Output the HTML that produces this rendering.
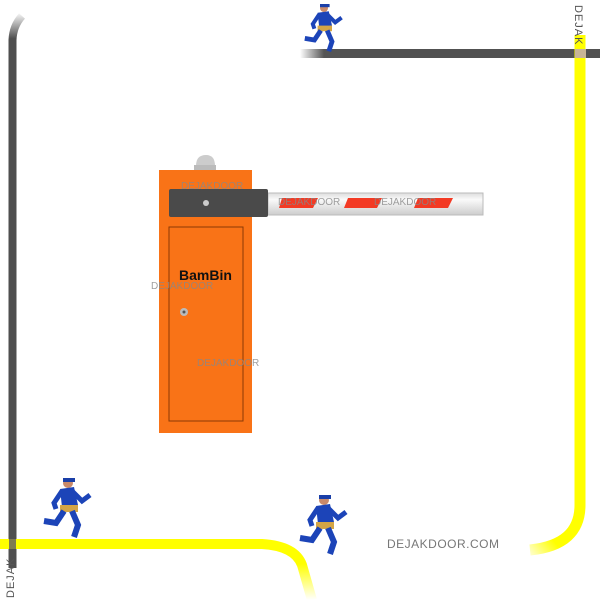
<!DOCTYPE html>
<html><head><style>
body{margin:0;width:600px;height:600px;background:#fff;overflow:hidden;font-family:"Liberation Sans",sans-serif}
</style></head><body>
<svg width="600" height="600" viewBox="0 0 600 600" xmlns="http://www.w3.org/2000/svg">
<defs>
<linearGradient id="gg" x1="0" x2="1"><stop offset="0" stop-color="#555" stop-opacity="0"/><stop offset="0.6" stop-color="#555"/></linearGradient>
<linearGradient id="yr" gradientUnits="userSpaceOnUse" x1="585" y1="500" x2="520" y2="552"><stop offset="0" stop-color="#ff0"/><stop offset="0.6" stop-color="#ff0"/><stop offset="1" stop-color="#ff0" stop-opacity="0"/></linearGradient>
<linearGradient id="yb" gradientUnits="userSpaceOnUse" x1="0" y1="540" x2="0" y2="600"><stop offset="0" stop-color="#ff0"/><stop offset="0.4" stop-color="#ff0"/><stop offset="1" stop-color="#ff0" stop-opacity="0"/></linearGradient>
<linearGradient id="gl" gradientUnits="userSpaceOnUse" x1="0" y1="12" x2="0" y2="50"><stop offset="0" stop-color="#4f4f4f" stop-opacity="0"/><stop offset="0.7" stop-color="#4f4f4f"/></linearGradient>
<linearGradient id="arm" x1="0" y1="0" x2="0" y2="1"><stop offset="0" stop-color="#ddd"/><stop offset="0.3" stop-color="#fafafa"/><stop offset="1" stop-color="#ccc"/></linearGradient>
<g id="man">
<circle cx="30" cy="10" r="5" fill="#c98a6a"/>
<path d="M25 5 h12 v4 h-12z" fill="#1a3fa8"/>
<path d="M22 16 L36 14 L40 32 L24 34 Z" fill="#1c44b8"/>
<path d="M34 18 L44 28 L52 22" stroke="#1c44b8" stroke-width="5" fill="none"/>
<path d="M24 18 L16 30 L18 36" stroke="#1c44b8" stroke-width="5" fill="none"/>
<rect x="22" y="32" width="18" height="7" fill="#d4a546"/>
<path d="M26 38 L18 50 L6 48" stroke="#1c44b8" stroke-width="6" fill="none"/>
<path d="M34 38 L40 52 L36 64" stroke="#1c44b8" stroke-width="6" fill="none"/>
</g>
</defs>
<path d="M12.5 568 V40 Q13 26 22 16" stroke="url(#gl)" stroke-width="8" fill="none"/>
<rect x="330" y="49" width="270" height="9" fill="#515151"/>
<rect x="300" y="49" width="40" height="9" fill="url(#gg)"/>
<path d="M580 35 V505 Q580 545 530 550" stroke="url(#yr)" stroke-width="11" fill="none"/>
<rect x="575" y="49" width="11" height="9" fill="#c8b596"/>
<path d="M0 544 H262 Q295 546 302 565 L312 600" stroke="url(#yb)" stroke-width="10" fill="none"/>
<rect x="9" y="539" width="7" height="10" fill="#807c50"/>
<text x="575" y="5" font-size="11" fill="#555" transform="rotate(90 575 5)" letter-spacing="1">DEJAK</text>
<text x="14" y="598" font-size="11" fill="#555" transform="rotate(-90 14 598)" letter-spacing="1">DEJAK</text>
<path d="M196 166 Q196 155 206 155 Q215 155 215 166 Z" fill="#ccc"/>
<rect x="194" y="165" width="22" height="5" fill="#bbb"/>
<rect x="159" y="170" width="93" height="263" fill="#f97317"/>
<rect x="169" y="227" width="74" height="194" fill="none" stroke="#8a3a05" stroke-width="1"/>
<rect x="268" y="193" width="215" height="22" fill="url(#arm)" stroke="#bbb"/>
<polygon points="282,198 318,198 313,208 279,208" fill="#f33a24"/>
<polygon points="348,198 382,198 377,208 344,208" fill="#f33a24"/>
<polygon points="418,198 453,198 448,208 414,208" fill="#f33a24"/>
<rect x="169" y="189" width="99" height="28" rx="2" fill="#4a4a4a"/>
<circle cx="206" cy="203" r="3" fill="#ccc"/>
<circle cx="184" cy="312" r="4" fill="#bbb"/><circle cx="184" cy="312" r="1.5" fill="#555"/>
<text x="179" y="280" font-size="14" font-weight="bold" fill="#111">BamBin</text>
<g font-size="10" fill="#888" opacity="0.8">
<text x="181" y="189">DEJAKDOOR</text>
<text x="278" y="205">DEJAKDOOR</text>
<text x="374" y="205">DEJAKDOOR</text>
<text x="151" y="289">DEJAKDOOR</text>
<text x="197" y="366">DEJAKDOOR</text>
</g>
<text x="387" y="548" font-size="12" fill="#777" letter-spacing="0.5">DEJAKDOOR.COM</text>
<use href="#man" transform="translate(300,0) scale(0.8)"/>
<use href="#man" transform="translate(38,473) scale(1)"/>
<use href="#man" transform="translate(294,490) scale(1)"/>
</svg>
</body></html>
